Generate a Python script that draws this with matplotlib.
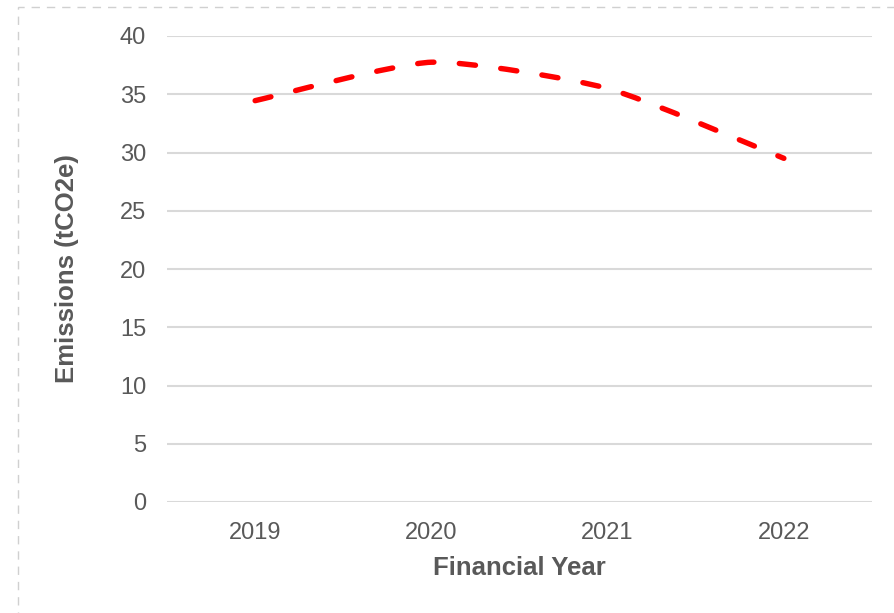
import matplotlib.pyplot as plt
from matplotlib.path import Path
from matplotlib.patches import PathPatch, Rectangle

# Dane
years = ["2019", "2020", "2021", "2022"]
emissions = [34.45, 37.75, 35.5, 29.5]
y_ticks = [0, 5, 10, 15, 20, 25, 30, 35, 40]

TEXT = "#595959"
GRID = "#d9d9d9"
RED = "#ff0000"

plt.rcParams['font.family'] = ['Liberation Sans', 'DejaVu Sans']


def smooth_path(xs, ys, t=1 / 10):
    """Wygładzona linia (krzywe Beziera przez punkty danych)."""
    pts = list(zip(xs, ys))
    n = len(pts)
    verts = [pts[0]]
    codes = [Path.MOVETO]
    for i in range(n - 1):
        p0 = pts[i - 1] if i > 0 else pts[i]
        p1 = pts[i]
        p2 = pts[i + 1]
        p3 = pts[i + 2] if i + 2 < n else pts[i + 1]
        c1 = (p1[0] + (p2[0] - p0[0]) * t, p1[1] + (p2[1] - p0[1]) * t)
        c2 = (p2[0] - (p3[0] - p1[0]) * t, p2[1] - (p3[1] - p1[1]) * t)
        verts += [c1, c2, p2]
        codes += [Path.CURVE4] * 3
    return Path(verts, codes)


fig = plt.figure(figsize=(8.94, 6.13), dpi=100)
ax = fig.add_axes([167 / 894, 1 - 502 / 613, 705 / 894, 466 / 613])

x = list(range(len(years)))
patch = PathPatch(smooth_path(x, emissions), fill=False, edgecolor=RED,
                  linewidth=3.9, linestyle=(0, (3.0, 4.7)), capstyle='round',
                  zorder=3)
ax.add_patch(patch)

ax.set_xlim(-0.5, len(years) - 0.5)
ax.set_ylim(0, 40)
ax.set_xticks(x)
ax.set_xticklabels(years)
ax.set_yticks(y_ticks)
ax.grid(axis='y', color=GRID, linewidth=1.5)
ax.set_axisbelow(True)
for s in ax.spines.values():
    s.set_visible(False)
ax.tick_params(length=0, labelsize=17, colors=TEXT)
ax.tick_params(axis='x', pad=14.5)
ax.tick_params(axis='y', pad=15)

ax.set_xlabel("Financial Year", fontsize=18.5, fontweight='bold', color=TEXT)
ax.set_ylabel("Emissions (tCO2e)", fontsize=18.5, fontweight='bold', color=TEXT)
ax.xaxis.label.set_va('center')
ax.yaxis.label.set_va('center')
ax.xaxis.set_label_coords(0.5, -(568 - 502) / 466)
ax.yaxis.set_label_coords((67 - 167) / 705, 0.5)

# Przerywana ramka wokół wykresu
border = Rectangle((18 / 894, -0.1), 1.2, 1 - 7 / 613 + 0.1,
                   transform=fig.transFigure, fill=False, edgecolor="#d0d0d0",
                   linewidth=1.0, linestyle=(0, (6, 5)))
fig.patches.append(border)

fig.savefig("out.png", dpi=100)
